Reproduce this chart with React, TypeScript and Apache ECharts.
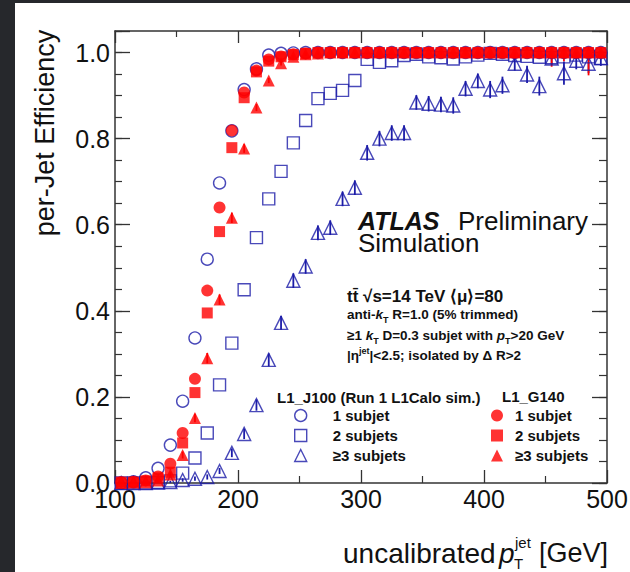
import React, { useEffect, useRef } from 'react';
import * as echarts from 'echarts';

const ptBins = [105, 115, 125, 135, 145, 155, 165, 175, 185, 195, 205, 215, 225, 235, 245, 255, 265, 275, 285, 295, 305, 315, 325, 335, 345, 355, 365, 375, 385, 395, 405, 415, 425, 435, 445, 455, 465, 475, 485, 495];

const j100One = [0.000, 0.003, 0.012, 0.034, 0.088, 0.190, 0.337, 0.520, 0.697, 0.818, 0.914, 0.962, 0.994, 0.998, 0.999, 1, 1, 1, 1, 1, 1, 1, 1, 1, 1, 1, 1, 1, 1, 1, 1, 1, 1, 1, 1, 1, 1, 1, 1, 1];
const j100Two = [0.000, 0.000, 0.000, 0.001, 0.005, 0.023, 0.058, 0.116, 0.228, 0.325, 0.449, 0.570, 0.660, 0.724, 0.790, 0.842, 0.893, 0.905, 0.912, 0.935, 0.984, 0.977, 0.981, 0.993, 0.996, 0.990, 0.988, 0.985, 0.990, 0.994, 0.998, 0.996, 0.993, 0.991, 0.989, 0.988, 0.990, 0.994, 0.990, 0.986];
const j100Three = [0.000, 0.000, 0.000, 0.001, 0.002, 0.007, 0.010, 0.014, 0.028, 0.070, 0.114, 0.181, 0.286, 0.372, 0.470, 0.503, 0.581, 0.593, 0.660, 0.686, 0.767, 0.800, 0.813, 0.813, 0.884, 0.881, 0.879, 0.877, 0.916, 0.934, 0.914, 0.924, 0.974, 0.949, 0.922, 0.986, 0.952, 0.981, 0.974, 0.987];
const j100ThreeErr = [0.002, 0.002, 0.002, 0.003, 0.003, 0.004, 0.005, 0.006, 0.007, 0.010, 0.012, 0.013, 0.015, 0.016, 0.017, 0.017, 0.017, 0.017, 0.017, 0.017, 0.018, 0.018, 0.018, 0.018, 0.017, 0.018, 0.018, 0.019, 0.018, 0.017, 0.020, 0.020, 0.016, 0.020, 0.022, 0.014, 0.027, 0.020, 0.022, 0.018];

const g140One = [0.002, 0.003, 0.006, 0.015, 0.045, 0.116, 0.242, 0.447, 0.640, 0.819, 0.907, 0.958, 0.984, 0.991, 0.996, 0.998, 1, 1, 1, 1, 1, 1, 1, 1, 1, 1, 1, 1, 1, 1, 1, 1, 1, 1, 1, 1, 1, 1, 1, 1];
const g140Two = [0.002, 0.002, 0.005, 0.012, 0.025, 0.093, 0.210, 0.395, 0.584, 0.779, 0.895, 0.955, 0.980, 0.990, 0.995, 0.998, 1, 1, 1, 1, 1, 1, 1, 1, 1, 1, 1, 1, 1, 1, 1, 1, 1, 1, 1, 1, 1, 1, 1, 1];
const g140Three = [0.000, 0.001, 0.002, 0.006, 0.020, 0.065, 0.151, 0.290, 0.426, 0.616, 0.777, 0.872, 0.935, 0.975, 0.990, 0.996, 0.998, 1, 1, 1, 1, 1, 1, 1, 1, 1, 1, 1, 1, 1, 1, 1, 1, 1, 1, 1, 1, 1, 1, 1];
const g140ThreeErr = [0.001, 0.001, 0.002, 0.003, 0.005, 0.008, 0.010, 0.012, 0.012, 0.012, 0.010, 0.008, 0.006, 0.005, 0.004, 0.004, 0.004, 0.004, 0.004, 0.005, 0.005, 0.005, 0.005, 0.006, 0.006, 0.006, 0.006, 0.007, 0.008, 0.008, 0.010, 0.010, 0.012, 0.010, 0.012, 0.033, 0.020, 0.012, 0.053, 0.015];

const xTicks = { min: 100, max: 500, interval: 100 };
const yMajor = { min: 0, max: 1.05, interval: 0.2 };
const yMinorInterval = 0.05;

const BLUE = '#1c1ca8';
const RED = '#ff0000';
const FONT = '"Liberation Sans", Arial, Helvetica, sans-serif';
const AXIS = '#333333';

const pts = (vals: number[]) => ptBins.map((x, i) => [x, vals[i]]);
const errs = (vals: number[], e: number[]) =>
  ptBins.map((x, i) => [x, Math.max(0, vals[i] - e[i]), Math.min(1, vals[i] + e[i])]);

export default function App() {
  const ref = useRef<HTMLDivElement>(null);
  useEffect(() => {
    if (!ref.current) return;
    document.body.style.margin = '0';
    document.documentElement.style.overflow = 'hidden';
    document.body.style.overflow = 'hidden';
    const chart = echarts.init(ref.current, undefined, { renderer: 'svg' });

    const errSeries = (name: string, data: number[][], color: string) => ({
      name,
      type: 'custom',
      data,
      encode: { x: 0, y: [1, 2] },
      silent: true,
      z: 2,
      renderItem: (_p: any, api: any) => {
        const a = api.coord([api.value(0), api.value(1)]);
        const b = api.coord([api.value(0), api.value(2)]);
        return {
          type: 'line',
          shape: { x1: a[0], y1: a[1], x2: b[0], y2: b[1] },
          style: { stroke: color, lineWidth: 1.8 },
        };
      },
    });

    const openStyle = { color: 'rgba(255,255,255,0)', borderColor: BLUE, borderWidth: 1.4 };
    const fillStyle = { color: RED, borderWidth: 0 };

    const dots: any[] = [];
    for (let row = 0; row < 82; row++) {
      const y = 3 + row * 7;
      const xs = row % 2 === 0 ? [3, 10] : [6.5, 13.5];
      xs.forEach((x) => dots.push({ type: 'circle', shape: { cx: x, cy: y, r: 1.3 }, style: { fill: '#55585e' }, silent: true }));
    }
    for (let col = 0; col < 90; col++) {
      dots.push({ type: 'circle', shape: { cx: 20 + col * 7, cy: 1, r: 1 }, style: { fill: '#55585e' }, silent: true });
    }

    const legendText = { fontSize: 15, fontWeight: 'bold', fontFamily: FONT, color: '#111', lineHeight: 15 };
    const txt = (x: number, y: number, text: string, font: string, lineHeight?: number) => ({
      type: 'text', x, y,
      style: { text, font, fill: '#111', textAlign: 'left', textVerticalAlign: 'middle', ...(lineHeight ? { lineHeight } : {}) },
    });

    chart.setOption({
      animation: false,
      backgroundColor: '#ffffff',
      grid: { left: 115, right: 23, top: 31, bottom: 89, containLabel: false, outerBoundsMode: 'none' },
      xAxis: [
        {
          type: 'value', position: 'bottom', ...xTicks,
          axisLine: { show: true, onZero: false, lineStyle: { color: AXIS, width: 1.5 } },
          axisTick: { show: true, inside: true, length: 13, lineStyle: { color: AXIS, width: 1.3 } },
          minorTick: { show: true, splitNumber: 2, length: 7, lineStyle: { color: AXIS, width: 1.2 } },
          splitLine: { show: false },
          axisLabel: { show: true, fontSize: 25, color: '#111', fontFamily: FONT, margin: 3 },
        },
        {
          type: 'value', position: 'top', ...xTicks,
          axisLine: { show: true, onZero: false, lineStyle: { color: AXIS, width: 1.5 } },
          axisTick: { show: true, inside: true, length: 12, lineStyle: { color: AXIS, width: 1.3 } },
          minorTick: { show: true, splitNumber: 2, length: 6, lineStyle: { color: AXIS, width: 1.2 } },
          splitLine: { show: false },
          axisLabel: { show: false },
        },
      ],
      yAxis: [
        {
          type: 'value', position: 'left', ...yMajor,
          axisLine: { show: true, onZero: false, lineStyle: { color: AXIS, width: 1.5 } },
          axisTick: { show: true, inside: true, length: 15, lineStyle: { color: AXIS, width: 1.3 } },
          splitLine: { show: false },
          axisLabel: {
            show: true, fontSize: 25, color: '#111', fontFamily: FONT, margin: 5,
            formatter: (v: number) => (v > 1.01 ? '' : v.toFixed(1)),
          },
        },
        {
          type: 'value', position: 'left', min: yMajor.min, max: yMajor.max, interval: yMinorInterval,
          axisLine: { show: false },
          axisTick: { show: true, inside: true, length: 7, lineStyle: { color: AXIS, width: 1.2 } },
          splitLine: { show: false },
          axisLabel: { show: false },
        },
        {
          type: 'value', position: 'right', ...yMajor,
          axisLine: { show: true, onZero: false, lineStyle: { color: AXIS, width: 1.5 } },
          axisTick: { show: true, inside: true, length: 15, lineStyle: { color: AXIS, width: 1.3 } },
          splitLine: { show: false },
          axisLabel: { show: false },
        },
        {
          type: 'value', position: 'right', min: yMajor.min, max: yMajor.max, interval: yMinorInterval,
          axisLine: { show: false },
          axisTick: { show: true, inside: true, length: 8, lineStyle: { color: AXIS, width: 1.2 } },
          splitLine: { show: false },
          axisLabel: { show: false },
        },
      ],
      legend: [
        {
          left: 294, top: 408, orient: 'vertical', itemWidth: 12, itemHeight: 12, itemGap: 5, padding: 0,
          selectedMode: false,
          formatter: (n: string) => n.replace(/^\S+ /, ''),
          textStyle: { ...legendText, padding: [0, 0, 0, 21] },
          data: [
            { name: 'J100 1 subjet', icon: 'circle', itemStyle: openStyle },
            { name: 'J100 2 subjets', icon: 'rect', itemStyle: openStyle },
            { name: 'J100 ≥3 subjets', icon: 'triangle', itemStyle: openStyle },
          ],
        },
        {
          left: 491, top: 408, orient: 'vertical', itemWidth: 12, itemHeight: 12, itemGap: 5, padding: 0,
          selectedMode: false,
          formatter: (n: string) => n.replace(/^\S+ /, ''),
          textStyle: { ...legendText, padding: [0, 0, 0, 7] },
          data: [
            { name: 'G140 1 subjet', icon: 'circle', itemStyle: fillStyle },
            { name: 'G140 2 subjets', icon: 'rect', itemStyle: fillStyle },
            { name: 'G140 ≥3 subjets', icon: 'triangle', itemStyle: fillStyle },
          ],
        },
      ],
      series: [
        errSeries('J100 ≥3 err', errs(j100Three, j100ThreeErr), BLUE),
        { name: 'J100 1 subjet', type: 'scatter', data: pts(j100One), symbol: 'circle', symbolSize: 12, itemStyle: openStyle, z: 3, silent: true },
        { name: 'J100 2 subjets', type: 'scatter', data: pts(j100Two), symbol: 'rect', symbolSize: 12, itemStyle: openStyle, z: 3, silent: true },
        { name: 'J100 ≥3 subjets', type: 'scatter', data: pts(j100Three), symbol: 'triangle', symbolSize: 13, itemStyle: openStyle, z: 3, silent: true },
        errSeries('G140 ≥3 err', errs(g140Three, g140ThreeErr), RED),
        { name: 'G140 1 subjet', type: 'scatter', data: pts(g140One), symbol: 'circle', symbolSize: 12, itemStyle: fillStyle, z: 4, silent: true },
        { name: 'G140 ≥3 subjets', type: 'scatter', data: pts(g140Three), symbol: 'triangle', symbolSize: 12, itemStyle: fillStyle, z: 4, silent: true },
        { name: 'G140 2 subjets', type: 'scatter', data: pts(g140Two), symbol: 'rect', symbolSize: 11, itemStyle: fillStyle, z: 4, silent: true },
      ],
      graphic: [
        { type: 'rect', shape: { x: 0, y: 0, width: 15, height: 572 }, style: { fill: '#26282c' }, silent: true, z: 100 },
        { type: 'rect', shape: { x: 0, y: 0, width: 630, height: 3 }, style: { fill: '#26282c' }, silent: true, z: 100 },
        { type: 'group', z: 101, silent: true, children: dots },
        {
          type: 'text', x: 45, y: 133, rotation: Math.PI / 2,
          style: { text: 'per-Jet Efficiency', font: `27px ${FONT}`, fill: '#111', textAlign: 'center', textVerticalAlign: 'middle' },
        },
        txt(343, 553, 'uncalibrated', `28px ${FONT}`, 22),
        txt(499, 553, 'p', `italic 28px ${FONT}`, 20),
        txt(515, 542, 'jet', `15px ${FONT}`, 12),
        txt(514, 563, 'T', `15px ${FONT}`, 9),
        txt(539, 553, '[GeV]', `27px ${FONT}`, 22),
        txt(358, 221, 'ATLAS', `italic bold 25px ${FONT}`, 20),
        txt(458, 221, 'Preliminary', `26px ${FONT}`, 20),
        txt(358, 243, 'Simulation', `26px ${FONT}`, 20),
        txt(347, 296, 'tt\u0304 \u221As=14 TeV \u27E8\u03BC\u27E9=80', `bold 17px ${FONT}`, 18),
        {
          type: 'text', x: 347, y: 314,
          style: {
            text: '{b|anti-}{i|k}{s|T}{b| R=1.0 (5% trimmed)}', textAlign: 'left', textVerticalAlign: 'middle', fill: '#111',
            rich: {
              b: { fontSize: 13.5, fontWeight: 'bold', fontFamily: FONT, lineHeight: 20 },
              i: { fontSize: 13.5, fontWeight: 'bold', fontStyle: 'italic', fontFamily: FONT, lineHeight: 20 },
              s: { fontSize: 9, fontWeight: 'bold', fontFamily: FONT, lineHeight: 10, verticalAlign: 'bottom' },
            },
          },
        },
        {
          type: 'text', x: 347, y: 335,
          style: {
            text: '{b|\u22651 }{i|k}{s|T}{b| D=0.3 subjet with }{i|p}{s|T}{b|>20 GeV}', textAlign: 'left', textVerticalAlign: 'middle', fill: '#111',
            rich: {
              b: { fontSize: 13.5, fontWeight: 'bold', fontFamily: FONT, lineHeight: 20 },
              i: { fontSize: 13.5, fontWeight: 'bold', fontStyle: 'italic', fontFamily: FONT, lineHeight: 20 },
              s: { fontSize: 9, fontWeight: 'bold', fontFamily: FONT, lineHeight: 10, verticalAlign: 'bottom' },
            },
          },
        },
        {
          type: 'text', x: 347, y: 355,
          style: {
            text: '{b||\u03B7}{u|jet}{b||<2.5; isolated by \u0394 R>2}', textAlign: 'left', textVerticalAlign: 'middle', fill: '#111',
            rich: {
              b: { fontSize: 13.5, fontWeight: 'bold', fontFamily: FONT, lineHeight: 18 },
              u: { fontSize: 9, fontWeight: 'bold', fontFamily: FONT, lineHeight: 10, verticalAlign: 'top' },
            },
          },
        },
        txt(277, 397, 'L1_J100 (Run 1 L1Calo sim.)', `bold 15px ${FONT}`, 16),
        txt(502, 396, 'L1_G140', `bold 15px ${FONT}`, 16),
      ],
    });
    return () => chart.dispose();
  }, []);
  return <div ref={ref} style={{ position: 'fixed', left: 0, top: 0, width: 630, height: 572 }} />;
}
